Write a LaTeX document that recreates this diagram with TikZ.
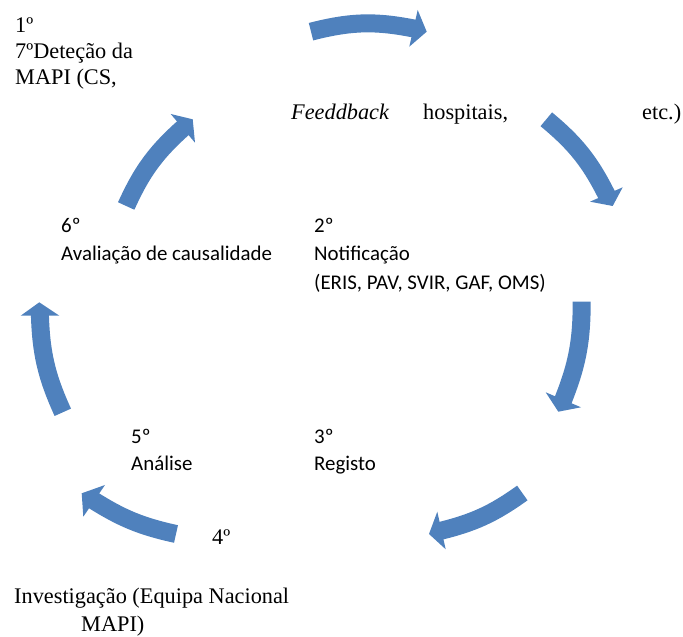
\documentclass[tikz,border=0pt]{standalone}
\usepackage{fontspec}
\setmainfont{Liberation Serif}
\newfontfamily\calib{Carlito}
\usetikzlibrary{calc}
\definecolor{arrowblue}{HTML}{4F81BD}
\begin{document}
\begin{tikzpicture}[x=1pt,y=1pt,
  body/.style={draw=arrowblue,line width=18pt},
  head/.style={fill=arrowblue},
  serif/.style={inner sep=0pt,anchor=base west,font=\fontsize{22.3}{26}\selectfont},
  sans/.style={inner sep=0pt,anchor=base west,font=\calib\fontsize{20.9}{24}\selectfont}]
\useasboundingbox (0,0) rectangle (683,637);

% arrow 1 (top)
\coordinate (t1) at (311,605.3);
\coordinate (b1) at (413.5,608.7);
\coordinate (p1) at (426.7,605.3);
\coordinate (l1) at (417.7,627);
\coordinate (r1) at (409.3,590.3);
\draw[body] (t1) to[bend left=13] ($(b1)!3pt!(p1)$);
\fill[head] (l1) -- (p1) -- (r1) -- cycle;

% arrow 2 (upper right)
\coordinate (t2) at (546.3,517.7);
\coordinate (b2) at (606.3,442.5);
\coordinate (p2) at (612.7,431);
\coordinate (l2) at (622.7,449.7);
\coordinate (r2) at (590,435.3);
\draw[body] (t2) to[bend left=12] ($(b2)!3pt!(p2)$);
\fill[head] (l2) -- (p2) -- (r2) -- cycle;

% arrow 3 (right)
\coordinate (t3) at (581.7,335.3);
\coordinate (b3) at (563.3,237.2);
\coordinate (p3) at (558.3,225.3);
\coordinate (l3) at (581,229.7);
\coordinate (r3) at (545.7,244.7);
\draw[body] (t3) to[bend left=11] ($(b3)!3pt!(p3)$);
\fill[head] (l3) -- (p3) -- (r3) -- cycle;

% arrow 4 (lower right)
\coordinate (t4) at (522.3,144);
\coordinate (b4) at (441.5,106.5);
\coordinate (p4) at (429,103);
\coordinate (l4) at (445.7,87.7);
\coordinate (r4) at (437.3,125.3);
\draw[body] (t4) to[bend left=11] ($(b4)!3pt!(p4)$);
\fill[head] (l4) -- (p4) -- (r4) -- cycle;

% arrow 5 (lower left)
\coordinate (t5) at (176,103);
\coordinate (b5) at (94.2,136.2);
\coordinate (p5) at (81.7,143.7);
\coordinate (l5) at (83.3,120.3);
\coordinate (r5) at (105,152);
\draw[body] (t5) to[bend left=10] ($(b5)!3pt!(p5)$);
\fill[head] (l5) -- (p5) -- (r5) -- cycle;

% arrow 6 (left)
\coordinate (t6) at (62.8,224.7);
\coordinate (b6) at (40,321.3);
\coordinate (p6) at (39.3,334.7);
\coordinate (l6) at (20.7,321.3);
\coordinate (r6) at (59.3,321.3);
\draw[body] (t6) to[bend left=11.5] ($(b6)!3pt!(p6)$);
\fill[head] (l6) -- (p6) -- (r6) -- cycle;

% arrow 7 (upper left)
\coordinate (t7) at (126.2,431);
\coordinate (b7) at (182.8,508.7);
\coordinate (p7) at (192.7,517.7);
\coordinate (l7) at (170.7,523);
\coordinate (r7) at (195,494.3);
\draw[body] (t7) to[bend left=12] ($(b7)!3pt!(p7)$);
\fill[head] (l7) -- (p7) -- (r7) -- cycle;

% serif texts
\node[serif] (s1) at (15,604.7) {1º};
\node[serif] (s2) at (15,578.7) {7ºDeteção da};
\node[serif] (s3) at (15,552) {MAPI (CS,};
\node[serif] (s4) at (291,517) {\itshape Feeddback};
\node[serif] (s5) at (423,517) {hospitais,};
\node[serif] (s6) at (642,517) {etc.)};
\node[serif] (s7) at (212,92) {4º};
\node[serif] (s8) at (14,33) {Investigação (Equipa Nacional};
\node[serif] (s9) at (81,5) {MAPI)};

% sans texts
\node[sans] (c1) at (314,404.5) {2º};
\node[sans] (c2) at (314,376) {Notificação};
\node[sans] (c3) at (314,347.5) {(ERIS, PAV, SVIR, GAF, OMS)};
\node[sans] (c4) at (61,404.5) {6º};
\node[sans] (c5) at (61,376) {Avaliação de causalidade};
\node[sans] (c6) at (314,193.5) {3º};
\node[sans] (c7) at (314,166) {Registo};
\node[sans] (c8) at (131,193.5) {5º};
\node[sans] (c9) at (131,166) {Análise};
\end{tikzpicture}
\end{document}
